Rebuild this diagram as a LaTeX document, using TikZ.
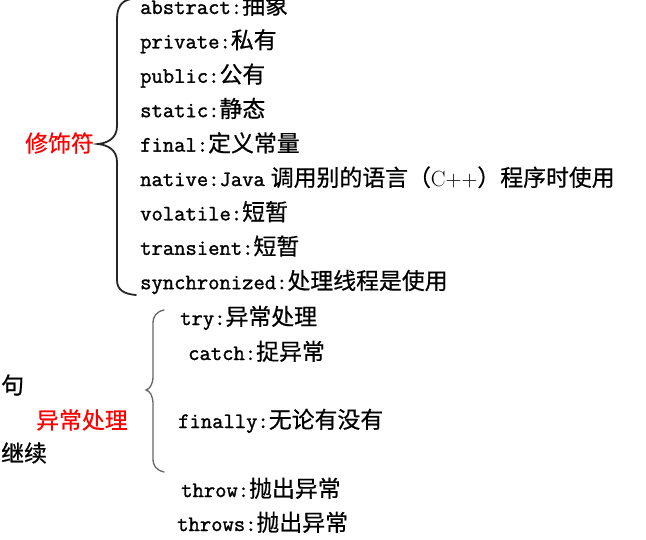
\documentclass[tikz,border=0pt]{standalone}
\usepackage{fontspec}
\usepackage{xcolor}
\usepackage{tikz}
\setmonofont[FakeBold=1.4]{Latin Modern Mono}
\newfontfamily\cjk[Scale=1.04,FakeBold=0.6]{Noto Sans CJK SC}
\definecolor{lblred}{HTML}{FF0000}
\tikzset{
  itemnode/.style={anchor=base west,inner sep=0pt,font=\fontsize{22}{24}\selectfont\ttfamily},
  grpnode/.style={anchor=west,inner sep=0pt,text=lblred,font=\fontsize{22}{24}\selectfont\cjk},
  cutnode/.style={grpnode,text=black},
  bracemain/.style={line width=1.8pt,black!85,line cap=round},
  bracesub/.style={line width=1.3pt,black!60,line cap=round},
}

\begin{document}
\begin{tikzpicture}[x=1pt,y=-1pt]
  \useasboundingbox (0,0) rectangle (646,539);
  % modifiers
  \node[grpnode] (gMod) at (25,143) {修饰符};
  \draw[bracemain] (131,-1) .. controls (121,1) and (117,7) .. (117,20)
    -- (117,126) .. controls (117,138) and (108,143) .. (98,144)
    .. controls (108,145) and (117,150) .. (117,162)
    -- (117,280) .. controls (117,290) and (124,294) .. (136,295);
  \node[itemnode] (nAbs) at (140,14.0) {abstract:{\cjk 抽象}};
  \node[itemnode] (nPriv) at (140,48.4) {private:{\cjk 私有}};
  \node[itemnode] (nPub) at (140,82.8) {public:{\cjk 公有}};
  \node[itemnode] (nStat) at (140,117.2) {static:{\cjk 静态}};
  \node[itemnode] (nFin) at (140,151.6) {final:{\cjk 定义常量}};
  \node[itemnode] (nNat) at (140,186.0) {native:Java\hspace{6pt}{\cjk 调用别的语言（}{\rmfamily C++}{\cjk ）程序时使用}};
  \node[itemnode] (nVol) at (140,220.4) {volatile:{\cjk 短暂}};
  \node[itemnode] (nTrans) at (140,254.8) {transient:{\cjk 短暂}};
  \node[itemnode] (nSync) at (140,289.2) {synchronized:{\cjk 处理线程是使用}};
  % exceptions
  \node[cutnode] (cJu) at (1,385) {句};
  \node[grpnode] (gExc) at (36,420) {异常处理};
  \node[cutnode] (cJx) at (1,453) {继续};
  \draw[bracesub] (164,310) .. controls (156,312) and (153,316) .. (153,324)
    -- (153,376) .. controls (153,384) and (150,389) .. (146,390)
    .. controls (150,391) and (153,396) .. (153,404)
    -- (153,458) .. controls (153,466) and (156,470) .. (164,472);
  \node[itemnode] (nTry) at (180,325) {try:{\cjk 异常处理}};
  \node[itemnode] (nCatch) at (188,360) {catch:{\cjk 捉异常}};
  \node[itemnode] (nFinally) at (178,428) {finally:{\cjk 无论有没有}};
  \node[itemnode] (nThrow) at (181,497) {throw:{\cjk 抛出异常}};
  \node[itemnode] (nThrows) at (177,531) {throws:{\cjk 抛出异常}};
\end{tikzpicture}
\end{document}
